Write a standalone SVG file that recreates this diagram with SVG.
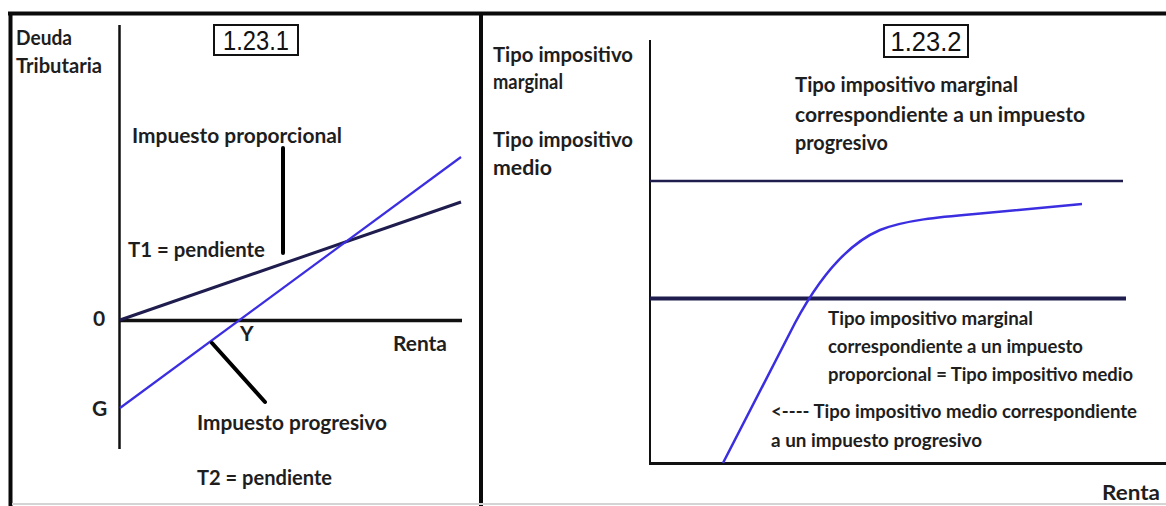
<svg xmlns="http://www.w3.org/2000/svg" width="1166" height="506" viewBox="0 0 1166 506">
  <style>
    .lbl { font-family: Lato, "Open Sans", "Liberation Sans", sans-serif; font-weight: 700; font-size: 21px; fill: #1e1e1e; }
    .sm { font-size: 19px; }
    .tag { font-family: "Liberation Sans", Arial, sans-serif; font-weight: 400; font-size: 27px; fill: #111; }
    .axis { stroke: #111; fill: none; }
    .navy { stroke: #1f1c4e; fill: none; }
    .blue { stroke: #3b2ee0; fill: none; }
    .lead { stroke: #000; stroke-width: 4; stroke-linecap: round; }
    .box { fill: #fff; stroke: #111; stroke-width: 2; }
  </style>
  <rect width="1166" height="506" fill="#fff"/>

  <!-- outer frame and panel divider -->
  <g id="frame" stroke="#0a0a0a" fill="none">
    <line x1="8" y1="13.5" x2="1166" y2="13.5" stroke-width="4"/>
    <line x1="10.5" y1="12" x2="10.5" y2="506" stroke-width="4"/>
    <line x1="481" y1="12" x2="481" y2="506" stroke-width="4"/>
    <line x1="12" y1="504" x2="1166" y2="504" stroke="#d4d4d4" stroke-width="2"/>
  </g>

  <!-- left chart: tax liability vs income -->
  <g id="chart-1">
    <line class="axis" x1="119.5" y1="25" x2="119.5" y2="449" stroke-width="2.5"/>
    <line class="axis" x1="119" y1="320.5" x2="462" y2="320.5" stroke-width="3.5"/>
    <line class="navy" x1="120" y1="320" x2="461" y2="202" stroke-width="3"/>
    <line class="blue" x1="120" y1="408" x2="461" y2="157" stroke-width="2.2"/>
  </g>

  <!-- right chart: tax rates vs income -->
  <g id="chart-2">
    <line class="axis" x1="650" y1="40" x2="650" y2="464" stroke-width="2"/>
    <line class="axis" x1="649" y1="463.5" x2="1166" y2="463.5" stroke-width="3"/>
    <line class="navy" x1="650" y1="181" x2="1123" y2="181" stroke-width="2.5"/>
    <line class="navy" x1="650" y1="298.5" x2="1126" y2="298.5" stroke="#28246e" stroke-width="4"/>
    <path class="blue" stroke-width="2.5" d="M723,463 L795,323 C818,280 845,245 880,230 C905,220 940,217 975,214 L1082,204"/>
  </g>

  <!-- leader lines from labels to curves -->
  <g id="connectors">
    <line class="lead" x1="283" y1="148" x2="283" y2="253"/>
    <line class="lead" x1="212" y1="343" x2="265" y2="402"/>
  </g>

  <g id="tag-1">
    <rect class="box" x="214" y="25" width="84" height="30"/>
    <text class="tag" x="256" y="50" text-anchor="middle" textLength="66" lengthAdjust="spacingAndGlyphs">1.23.1</text>
  </g>
  <g id="tag-2">
    <rect class="box" x="884" y="25" width="84" height="32"/>
    <text class="tag" x="926" y="51" text-anchor="middle" textLength="71" lengthAdjust="spacingAndGlyphs">1.23.2</text>
  </g>

  <g id="labels-1">
    <text class="lbl" x="16" y="45" textLength="56" lengthAdjust="spacingAndGlyphs">Deuda</text>
    <text class="lbl" x="16" y="73" textLength="86" lengthAdjust="spacingAndGlyphs">Tributaria</text>
    <text class="lbl" x="132" y="143" textLength="210" lengthAdjust="spacingAndGlyphs">Impuesto proporcional</text>
    <text class="lbl" x="128" y="257" textLength="137" lengthAdjust="spacingAndGlyphs">T1 = pendiente</text>
    <text class="lbl" x="93" y="326" font-size="18">0</text>
    <text class="lbl" x="240" y="341" font-size="13">Y</text>
    <text class="lbl" x="393" y="351" textLength="54" lengthAdjust="spacingAndGlyphs">Renta</text>
    <text class="lbl" x="92" y="416" font-size="19">G</text>
    <text class="lbl" x="197" y="430" textLength="190" lengthAdjust="spacingAndGlyphs">Impuesto progresivo</text>
    <text class="lbl" x="197" y="485" textLength="135" lengthAdjust="spacingAndGlyphs">T2 = pendiente</text>
  </g>

  <g id="labels-2">
    <text class="lbl" x="493" y="62" textLength="140" lengthAdjust="spacingAndGlyphs">Tipo impositivo</text>
    <text class="lbl" x="493" y="89" textLength="70" lengthAdjust="spacingAndGlyphs">marginal</text>
    <text class="lbl" x="493" y="147" textLength="140" lengthAdjust="spacingAndGlyphs">Tipo impositivo</text>
    <text class="lbl" x="493" y="175" textLength="59" lengthAdjust="spacingAndGlyphs">medio</text>

    <text class="lbl" x="795" y="92" textLength="223" lengthAdjust="spacingAndGlyphs">Tipo impositivo marginal</text>
    <text class="lbl" x="795" y="122" textLength="290" lengthAdjust="spacingAndGlyphs">correspondiente a un impuesto</text>
    <text class="lbl" x="795" y="150" textLength="93" lengthAdjust="spacingAndGlyphs">progresivo</text>

    <text class="lbl sm" x="828" y="325" textLength="205" lengthAdjust="spacingAndGlyphs">Tipo impositivo marginal</text>
    <text class="lbl sm" x="828" y="353" textLength="255" lengthAdjust="spacingAndGlyphs">correspondiente a un impuesto</text>
    <text class="lbl sm" x="828" y="381" textLength="305" lengthAdjust="spacingAndGlyphs">proporcional = Tipo impositivo medio</text>

    <text class="lbl sm" x="771" y="418" textLength="366" lengthAdjust="spacingAndGlyphs">&lt;---- Tipo impositivo medio correspondiente</text>
    <text class="lbl sm" x="771" y="447" textLength="211" lengthAdjust="spacingAndGlyphs">a un impuesto progresivo</text>

    <text class="lbl" x="1102" y="500" textLength="58" lengthAdjust="spacingAndGlyphs">Renta</text>
  </g>
</svg>
